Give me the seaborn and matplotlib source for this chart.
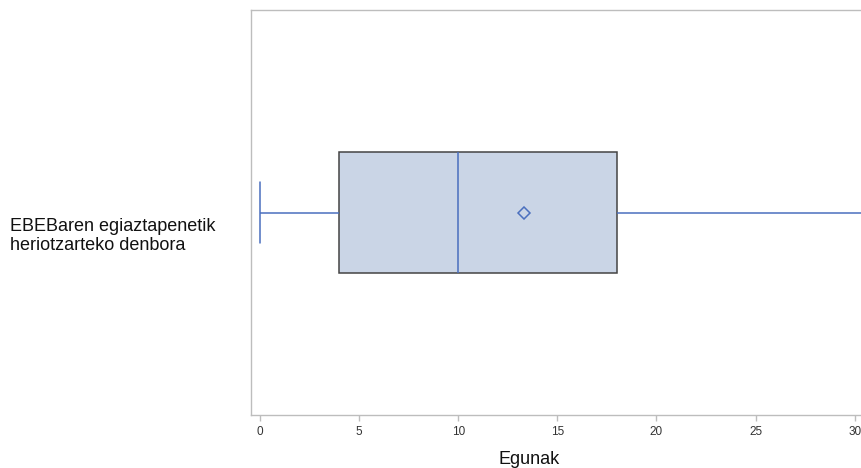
import numpy as np
import pandas as pd
import matplotlib
matplotlib.use('Agg')
import matplotlib.pyplot as plt
import seaborn as sns

# values chosen to reproduce the box: min 0, Q1 4, median 10, Q3 18, mean ~13.3
days = [0, 2, 4, 7, 10, 14, 18, 22, 43]
category = 'EBEBaren egiaztapenetik\nheriotzarteko denbora'
xticks = [0, 5, 10, 15, 20, 25, 30]

fill_color = '#CAD5E6'
line_blue = '#4A6FBE'
edge_dark = '#444444'
frame_gray = '#BDBDBD'

sns.set_style('white')
plt.rcParams['font.family'] = ['Liberation Sans', 'DejaVu Sans']

df = pd.DataFrame({'Egunak': days, 'group': [category] * len(days)})

fig = plt.figure(figsize=(8.61, 4.68), dpi=100)
ax = fig.add_axes([251 / 861, 53 / 468, 611 / 861, 404.5 / 468])

sns.boxplot(data=df, x='Egunak', y='group', orient='h', whis=(0, 100), width=0.3,
            showmeans=True, ax=ax,
            boxprops=dict(facecolor=fill_color, edgecolor=edge_dark, linewidth=1.1),
            medianprops=dict(color=line_blue, linewidth=1.1),
            whiskerprops=dict(color=line_blue, linewidth=1.1),
            capprops=dict(color=line_blue, linewidth=1.1),
            meanprops=dict(marker='D', markerfacecolor='none', markeredgecolor=line_blue,
                           markeredgewidth=1.1, markersize=6.5))

ax.set_xlim(-0.46, 30.37)
ax.set_ylim(0.5, -0.5)
ax.set_xticks(xticks)
ax.set_xticklabels([str(t) for t in xticks], fontsize=8.5, color='#333333')
ax.tick_params(axis='x', bottom=True, length=4, width=1, color=frame_gray, pad=4)

# category label sits a bit below the box centre, left aligned at the figure edge
ax.set_yticks([0])
ax.set_yticklabels([''])
ax.tick_params(axis='y', length=0)
fig.text(10 / 861, 1 - 236 / 468, category, ha='left', va='center',
         fontsize=13, color='#111111', linespacing=1.1)

ax.set_ylabel('')
ax.set_xlabel('Egunak', fontsize=13, color='#111111')
ax.xaxis.set_label_coords((529 - 251) / 611, -0.088)

for side in ['left', 'top', 'bottom']:
    ax.spines[side].set_visible(True)
    ax.spines[side].set_color(frame_gray)
    ax.spines[side].set_linewidth(1)
ax.spines['right'].set_visible(False)

fig.savefig('out.png', dpi=100)
